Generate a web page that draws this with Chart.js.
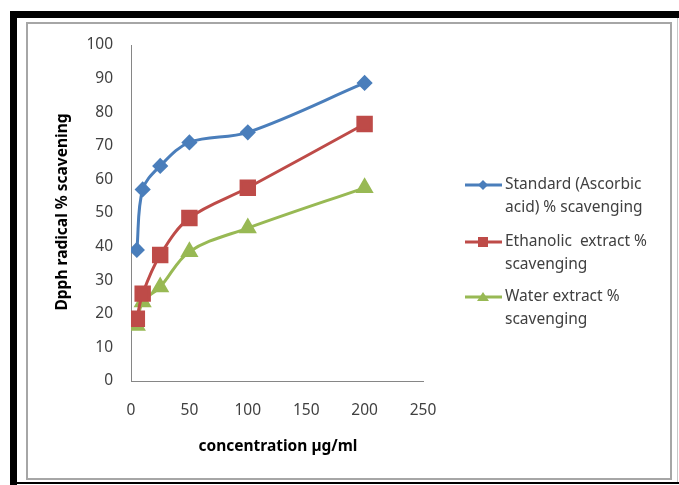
<!DOCTYPE html>
<html>
<head>
<meta charset="utf-8">
<script src="https://cdn.jsdelivr.net/npm/chart.js@4/dist/chart.umd.min.js"></script>
<style>
  html, body { margin: 0; padding: 0; background: #fff; }
  #wrap { position: relative; width: 679px; height: 485px; }
</style>
</head>
<body>
<div id="wrap"><canvas id="dpphChart" width="679" height="485"></canvas></div>
<script>
// concentration (µg/ml)
const concentrations = [5, 10, 25, 50, 100, 200];
// % scavenging
const standardValues = [39, 57, 64, 71, 74, 88.7];
const ethanolicValues = [18.5, 26, 37.5, 48.5, 57.5, 76.5];
const waterValues = [16.5, 23.5, 28, 38.5, 45.5, 57.5];

const xTicks = [0, 50, 100, 150, 200, 250];
const yTicks = [0, 10, 20, 30, 40, 50, 60, 70, 80, 90, 100];

const seriesLabels = [
    ['Standard (Ascorbic', 'acid) % scavenging'],
    ['Ethanolic  extract %', 'scavenging'],
    ['Water extract %', 'scavenging']
];
const xTitle = 'concentration µg/ml';
const yTitle = 'Dpph radical % scavening';

const FONT = "'Noto Sans', 'Liberation Sans', sans-serif";
const TEXT = '#404040';

function toPoints(values) {
    return concentrations.map((c, i) => ({ x: c, y: values[i] }));
}

// frame, axis titles and the legend drawn on the canvas
const decorPlugin = {
    id: 'decor',
    beforeDraw(chart) {
        const ctx = chart.ctx;
        ctx.save();
        ctx.fillStyle = '#000';
        ctx.fillRect(10, 11, 669, 7);
        ctx.fillRect(10, 11, 7, 474);
        ctx.fillRect(10, 482, 669, 2);
        ctx.strokeStyle = '#a6a6a6';
        ctx.lineWidth = 2;
        ctx.strokeRect(27, 23, 644, 456);
        ctx.strokeStyle = '#c8c8c8';
        ctx.lineWidth = 1;
        ctx.beginPath();
        ctx.moveTo(677.5, 18);
        ctx.lineTo(677.5, 482);
        ctx.stroke();
        ctx.restore();
    },
    afterDraw(chart) {
        const ctx = chart.ctx;
        ctx.save();
        ctx.fillStyle = '#000';
        ctx.font = 'bold 15.5px ' + FONT;
        ctx.textAlign = 'center';
        ctx.textBaseline = 'middle';
        ctx.fillText(xTitle, 278, 447);
        ctx.translate(63, 212);
        ctx.rotate(-Math.PI / 2);
        ctx.fillText(yTitle, 0, 0);
        ctx.restore();

        // legend
        const rows = [185, 242, 297];
        chart.data.datasets.forEach((ds, i) => {
            const y = rows[i];
            ctx.save();
            ctx.strokeStyle = ds.borderColor;
            ctx.lineWidth = 3;
            ctx.beginPath();
            ctx.moveTo(465, y);
            ctx.lineTo(502, y);
            ctx.stroke();
            ctx.fillStyle = ds.backgroundColor;
            const cx = 483;
            ctx.beginPath();
            if (ds.pointStyle === 'rectRot') {
                ctx.moveTo(cx, y - 5); ctx.lineTo(cx + 5, y); ctx.lineTo(cx, y + 5); ctx.lineTo(cx - 5, y);
            } else if (ds.pointStyle === 'rect') {
                ctx.rect(cx - 5, y - 5, 10, 10);
            } else {
                ctx.moveTo(cx, y - 5); ctx.lineTo(cx + 6, y + 4); ctx.lineTo(cx - 6, y + 4);
            }
            ctx.closePath();
            ctx.fill();
            ctx.fillStyle = TEXT;
            ctx.font = '15.5px ' + FONT;
            ctx.textAlign = 'left';
            ctx.textBaseline = 'middle';
            seriesLabels[i].forEach((line, j) => {
                ctx.fillText(line, 505, y + j * 23);
            });
            ctx.restore();
        });
    }
};

const ctx = document.getElementById('dpphChart').getContext('2d');
new Chart(ctx, {
    type: 'line',
    data: {
        datasets: [{
            label: seriesLabels[0].join(' '),
            data: toPoints(standardValues),
            borderColor: '#4a7ebb',
            backgroundColor: '#4a7ebb',
            pointStyle: 'rectRot',
            pointRadius: 6,
            borderWidth: 3,
            tension: 0.35
        }, {
            label: seriesLabels[1].join(' '),
            data: toPoints(ethanolicValues),
            borderColor: '#be4b48',
            backgroundColor: '#be4b48',
            pointStyle: 'rect',
            pointRadius: 9.5,
            borderWidth: 3,
            tension: 0.35
        }, {
            label: seriesLabels[2].join(' '),
            data: toPoints(waterValues),
            borderColor: '#98b954',
            backgroundColor: '#98b954',
            pointStyle: 'triangle',
            pointRadius: 7.5,
            borderWidth: 3,
            tension: 0.35
        }]
    },
    options: {
        responsive: false,
        animation: false,
        layout: { padding: { left: 0, top: 45, right: 256, bottom: 0 } },
        plugins: {
            legend: { display: false },
            tooltip: { enabled: false }
        },
        scales: {
            x: {
                type: 'linear',
                min: 0,
                max: 250,
                afterFit: s => { s.height = 104; },
                afterBuildTicks: s => { s.ticks = xTicks.map(v => ({ value: v })); },
                grid: { display: true, drawOnChartArea: false, drawTicks: false },
                border: { display: true, color: '#868686', width: 1 },
                ticks: { color: TEXT, font: { family: FONT, size: 15.5 }, padding: 20 }
            },
            y: {
                min: 0,
                max: 100,
                afterFit: s => { s.width = 131; },
                afterBuildTicks: s => { s.ticks = yTicks.map(v => ({ value: v })); },
                grid: { display: true, drawOnChartArea: false, drawTicks: false },
                border: { display: true, color: '#868686', width: 1 },
                ticks: { color: TEXT, font: { family: FONT, size: 15.5 }, padding: 18 }
            }
        }
    },
    plugins: [decorPlugin]
});
</script>
</body>
</html>
